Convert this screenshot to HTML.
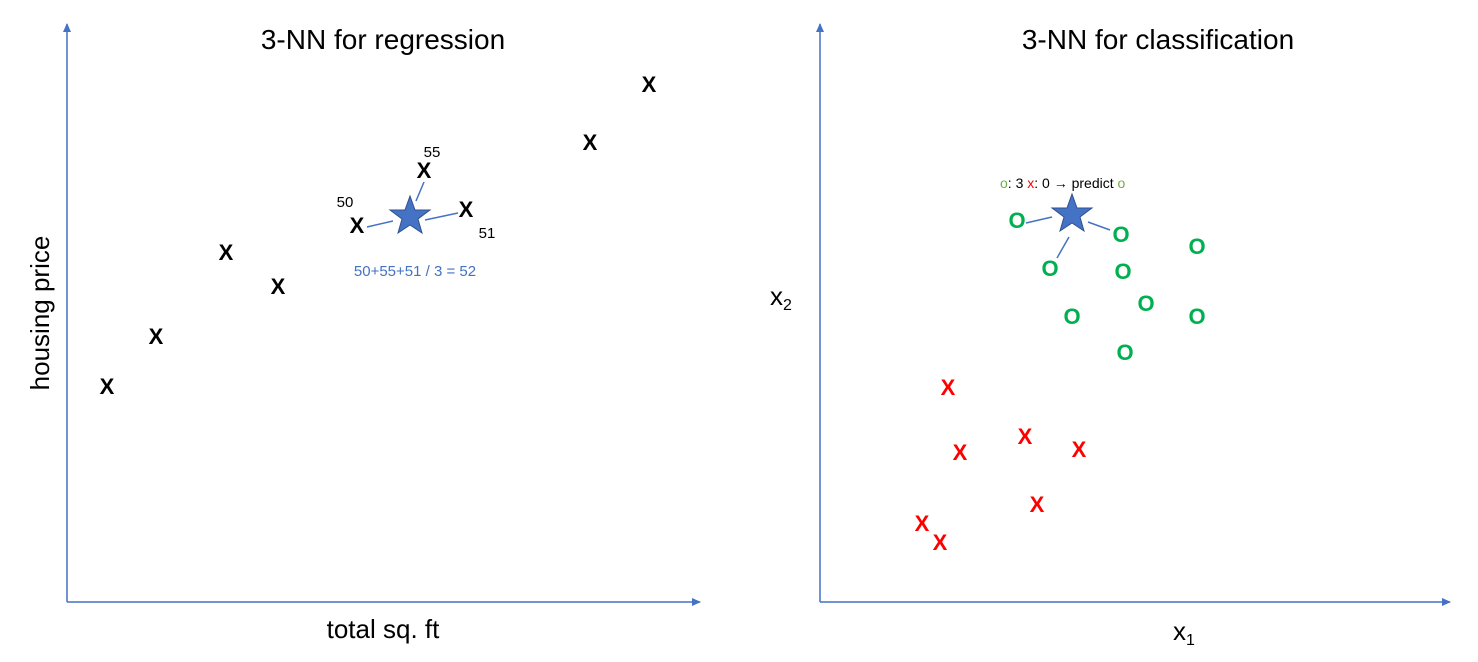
<!DOCTYPE html>
<html><head><style>body{margin:0;background:#fff}svg{display:block}</style></head><body>
<svg width="1478" height="662" xmlns="http://www.w3.org/2000/svg" font-family="Liberation Sans, sans-serif">
<defs><marker id="a" markerWidth="10" markerHeight="10" refX="8" refY="5" orient="auto" markerUnits="userSpaceOnUse"><path d="M0,1 L9,5 L0,9 z" fill="#4472c4"/></marker></defs>
<g stroke="#4472c4" stroke-width="1.5" fill="none">
<line x1="67" y1="602" x2="67" y2="24" marker-end="url(#a)"/>
<line x1="67" y1="602" x2="700" y2="602" marker-end="url(#a)"/>
<line x1="820" y1="602" x2="820" y2="24" marker-end="url(#a)"/>
<line x1="820" y1="602" x2="1450" y2="602" marker-end="url(#a)"/>
<line x1="367" y1="227" x2="393" y2="221"/><line x1="424" y1="182" x2="416" y2="201"/><line x1="425" y1="220" x2="458" y2="213"/>
<line x1="1026" y1="223" x2="1052" y2="217"/><line x1="1088" y1="222" x2="1110" y2="230"/><line x1="1069" y1="237" x2="1057" y2="258"/>
</g>
<g fill="#4472c4" stroke="#2f528f" stroke-width="1">
<polygon transform="translate(410,217)" points="0,-21 5,-7 20,-7 8,2 12,16 0,8 -12,16 -8,2 -20,-7 -5,-7"/>
<polygon transform="translate(1072,215)" points="0,-21 5,-7 20,-7 8,2 12,16 0,8 -12,16 -8,2 -20,-7 -5,-7"/>
</g>
<g font-size="28" text-anchor="middle">
<text x="383" y="49">3-NN for regression</text>
<text x="1158" y="49">3-NN for classification</text>
<text x="383" y="638" font-size="26">total sq. ft</text>
<text transform="translate(49,313) rotate(-90)" font-size="26">housing price</text>
</g>
<text x="770" y="305" font-size="26">x<tspan font-size="16" dy="5">2</tspan></text>
<text x="1173" y="640" font-size="26">x<tspan font-size="16" dy="5">1</tspan></text>
<g font-size="22" text-anchor="middle" font-weight="bold">
<text x="107" y="394">X</text><text x="156" y="344">X</text><text x="226" y="260">X</text><text x="278" y="294">X</text><text x="357" y="233">X</text><text x="424" y="178">X</text><text x="466" y="217">X</text><text x="590" y="150">X</text><text x="649" y="92">X</text>
</g>
<g font-size="15" text-anchor="middle">
<text x="345" y="207">50</text><text x="432" y="157">55</text><text x="487" y="238">51</text>
<text x="415" y="276" fill="#4472c4">50+55+51 / 3 = 52</text>
</g>
<g font-size="22" text-anchor="middle" fill="#00b050" font-weight="bold">
<text x="1017" y="228">O</text><text x="1121" y="242">O</text><text x="1050" y="276">O</text><text x="1197" y="254">O</text><text x="1123" y="279">O</text><text x="1146" y="311">O</text><text x="1072" y="324">O</text><text x="1197" y="324">O</text><text x="1125" y="360">O</text>
</g>
<g font-size="22" text-anchor="middle" fill="#ff0000" font-weight="bold">
<text x="948" y="395">X</text><text x="960" y="460">X</text><text x="1025" y="444">X</text><text x="1079" y="457">X</text><text x="1037" y="512">X</text><text x="922" y="531">X</text><text x="940" y="550">X</text>
</g>
<text x="1000" y="188" font-size="14"><tspan fill="#70ad47">o</tspan>: 3 <tspan fill="#ff0000">x</tspan>: 0 → predict <tspan fill="#70ad47">o</tspan></text>
</svg>
</body></html>
